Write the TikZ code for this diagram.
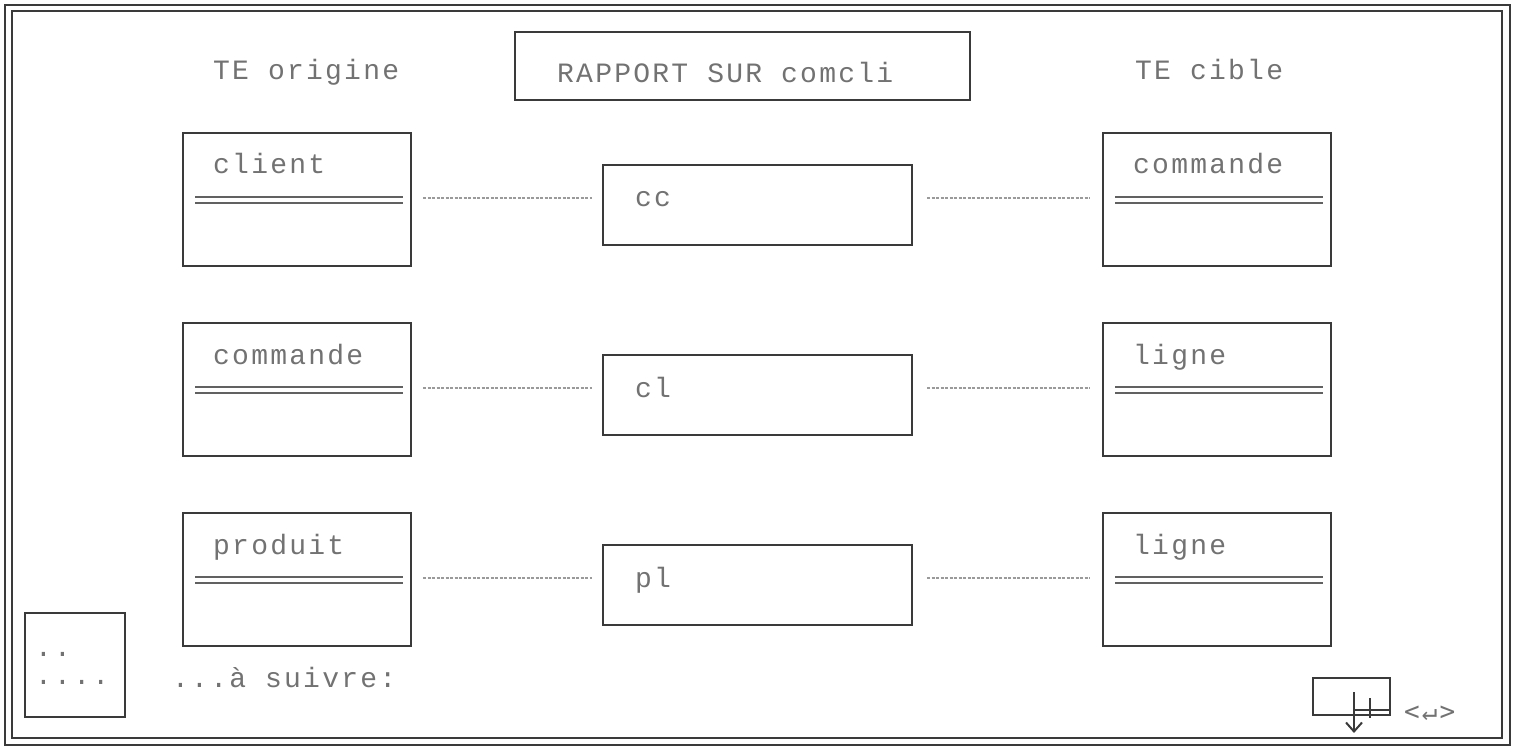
\documentclass[tikz,border=0pt]{standalone}
\usepackage{fontspec}
\newfontfamily\dmfont[LetterSpace=8]{Liberation Mono}
\newfontfamily\djfont[LetterSpace=8]{DejaVu Sans Mono}
\usetikzlibrary{calc,arrows.meta}
\definecolor{ink}{HTML}{3A3A3A}
\definecolor{txt}{HTML}{727272}
\definecolor{lnk}{HTML}{9A9A9A}
\tikzset{
  box/.style={draw=ink, line width=2.2pt, rectangle, inner sep=0pt, outer sep=0pt},
  lbl/.style={text=txt, font=\dmfont\fontsize{28}{28}\selectfont, inner sep=0pt, anchor=base west},
  rule/.style={draw=ink!80, line width=1.6pt},
  link/.style={draw=lnk, line width=1.3pt, dash pattern=on 3pt off 1.5pt},
  frame/.style={draw=ink, line width=2.4pt}
}
\begin{document}
\begin{tikzpicture}[x=1pt,y=-1pt]
\useasboundingbox (0,0) rectangle (1519,749);
% outer double frame
\draw[frame] (5,5) rectangle (1510,745);
\draw[frame, line width=2pt] (12,11) rectangle (1502,738);
% title
\node[box, minimum width=455, minimum height=68] (title) at (742.5,66) {};
\node[lbl] (ttl) at (557,83) {RAPPORT SUR comcli};
\node[lbl] (hl) at (213,80) {TE origine};
\node[lbl] (hr) at (1135,80) {TE cible};
% rows
\foreach \i/\a/\b/\c in {1/client/cc/commande, 2/commande/cl/ligne, 3/produit/pl/ligne}{
  \pgfmathsetmacro{\dy}{(\i-1)*190}
  \node[box, minimum width=228, minimum height=133] (L\i) at (297,199.5+\dy) {};
  \node[box, minimum width=309, minimum height=80] (M\i) at (757.5,205+\dy) {};
  \node[box, minimum width=228, minimum height=133] (R\i) at (1217,199.5+\dy) {};
  \node[lbl] (lt\i) at ($(L\i.north west)+(30,41)$) {\a};
  \node[lbl] (mt\i) at ($(M\i.north west)+(32,42)$) {\b};
  \node[lbl] (rt\i) at ($(R\i.north west)+(30,41)$) {\c};
  \draw[rule] ($(L\i.north west)+(12,64)$) -- ($(L\i.north east)+(-8,64)$);
  \draw[rule] ($(L\i.north west)+(12,70)$) -- ($(L\i.north east)+(-8,70)$);
  \draw[rule] ($(R\i.north west)+(12,64)$) -- ($(R\i.north east)+(-8,64)$);
  \draw[rule] ($(R\i.north west)+(12,70)$) -- ($(R\i.north east)+(-8,70)$);
  \draw[link] ($(L\i.east)+(12,-1.5)$) -- ($(M\i.west |- L\i.east)+(-11,-1.5)$);
  \draw[link] ($(M\i.east |- R\i.west)+(15,-1.5)$) -- ($(R\i.west)+(-13,-1.5)$);
}
% bottom left box
\node[box, minimum width=100, minimum height=104] (sb) at (75,665) {};
\node[lbl] (sb1) at ($(sb.north west)+(10,43)$) {..};
\node[lbl] (sb2) at ($(sb.north west)+(10,71)$) {....};
\node[lbl] (suiv) at (172,687) {...à suivre:};
% bottom right key
\node[box, minimum width=77, minimum height=37] (kb) at (1351.5,696.5) {};
\coordinate (ka) at (1354,692);
\coordinate (kz) at (1354,733);
\draw[ink, line width=2pt, -{Straight Barb[length=9pt,width=16pt]}] (ka) -- (kz);
\draw[ink, line width=1.6pt] (1354,710) -- (1390,710);
\draw[ink, line width=1.6pt] (1370,698) -- (1370,718);
\node[text=txt, font=\djfont\fontsize{26}{26}\selectfont, inner sep=0pt, anchor=base west] (ret) at (1404,720) {<↵>};
\end{tikzpicture}
\end{document}
